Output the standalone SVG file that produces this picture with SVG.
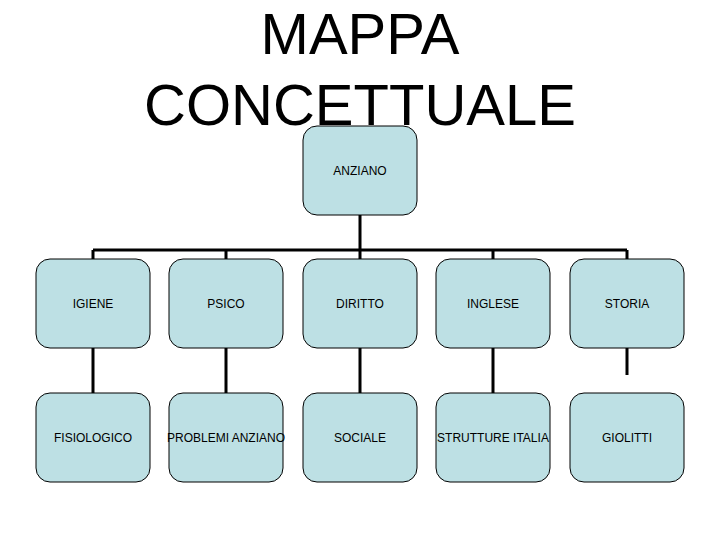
<svg xmlns="http://www.w3.org/2000/svg" width="720" height="540" viewBox="0 0 720 540">
<style>
.n{fill:#bde0e4;stroke:#000;stroke-width:1}
.t{font-family:"Liberation Sans",Arial,sans-serif;font-size:12px;text-anchor:middle;fill:#000}
.h{font-family:"Liberation Sans",Arial,sans-serif;font-size:58px;text-anchor:middle;fill:#000}
.c{stroke:#000;stroke-width:3;fill:none}
</style>
<rect width="720" height="540" fill="#fff"/>
<text class="h" x="360" y="54">MAPPA</text>
<text class="h" x="360" y="125">CONCETTUALE</text>
<g id="connectors">
<path class="c" d="M360 215V250M93 250H627M93 250V259M226 250V259M360 250V259M493 250V259M627 250V259"/>
<path class="c" d="M93 348V393M226 348V393M360 348V393M493 348V393M627 348V375"/>
</g>
<g id="anziano"><rect class="n" x="303" y="126" width="114" height="89" rx="14"/><text class="t" x="360" y="175">ANZIANO</text></g>
<g id="igiene"><rect class="n" x="36" y="259" width="114" height="89" rx="14"/><text class="t" x="93" y="308">IGIENE</text></g>
<g id="psico"><rect class="n" x="169" y="259" width="114" height="89" rx="14"/><text class="t" x="226" y="308">PSICO</text></g>
<g id="diritto"><rect class="n" x="303" y="259" width="114" height="89" rx="14"/><text class="t" x="360" y="308">DIRITTO</text></g>
<g id="inglese"><rect class="n" x="436" y="259" width="114" height="89" rx="14"/><text class="t" x="493" y="308">INGLESE</text></g>
<g id="storia"><rect class="n" x="570" y="259" width="114" height="89" rx="14"/><text class="t" x="627" y="308">STORIA</text></g>
<g id="fisiologico"><rect class="n" x="36" y="393" width="114" height="89" rx="14"/><text class="t" x="93" y="442">FISIOLOGICO</text></g>
<g id="problemi"><rect class="n" x="169" y="393" width="114" height="89" rx="14"/><text class="t" x="226" y="442">PROBLEMI ANZIANO</text></g>
<g id="sociale"><rect class="n" x="303" y="393" width="114" height="89" rx="14"/><text class="t" x="360" y="442">SOCIALE</text></g>
<g id="strutture"><rect class="n" x="436" y="393" width="114" height="89" rx="14"/><text class="t" x="493" y="442">STRUTTURE ITALIA</text></g>
<g id="giolitti"><rect class="n" x="570" y="393" width="114" height="89" rx="14"/><text class="t" x="627" y="442">GIOLITTI</text></g>
</svg>
